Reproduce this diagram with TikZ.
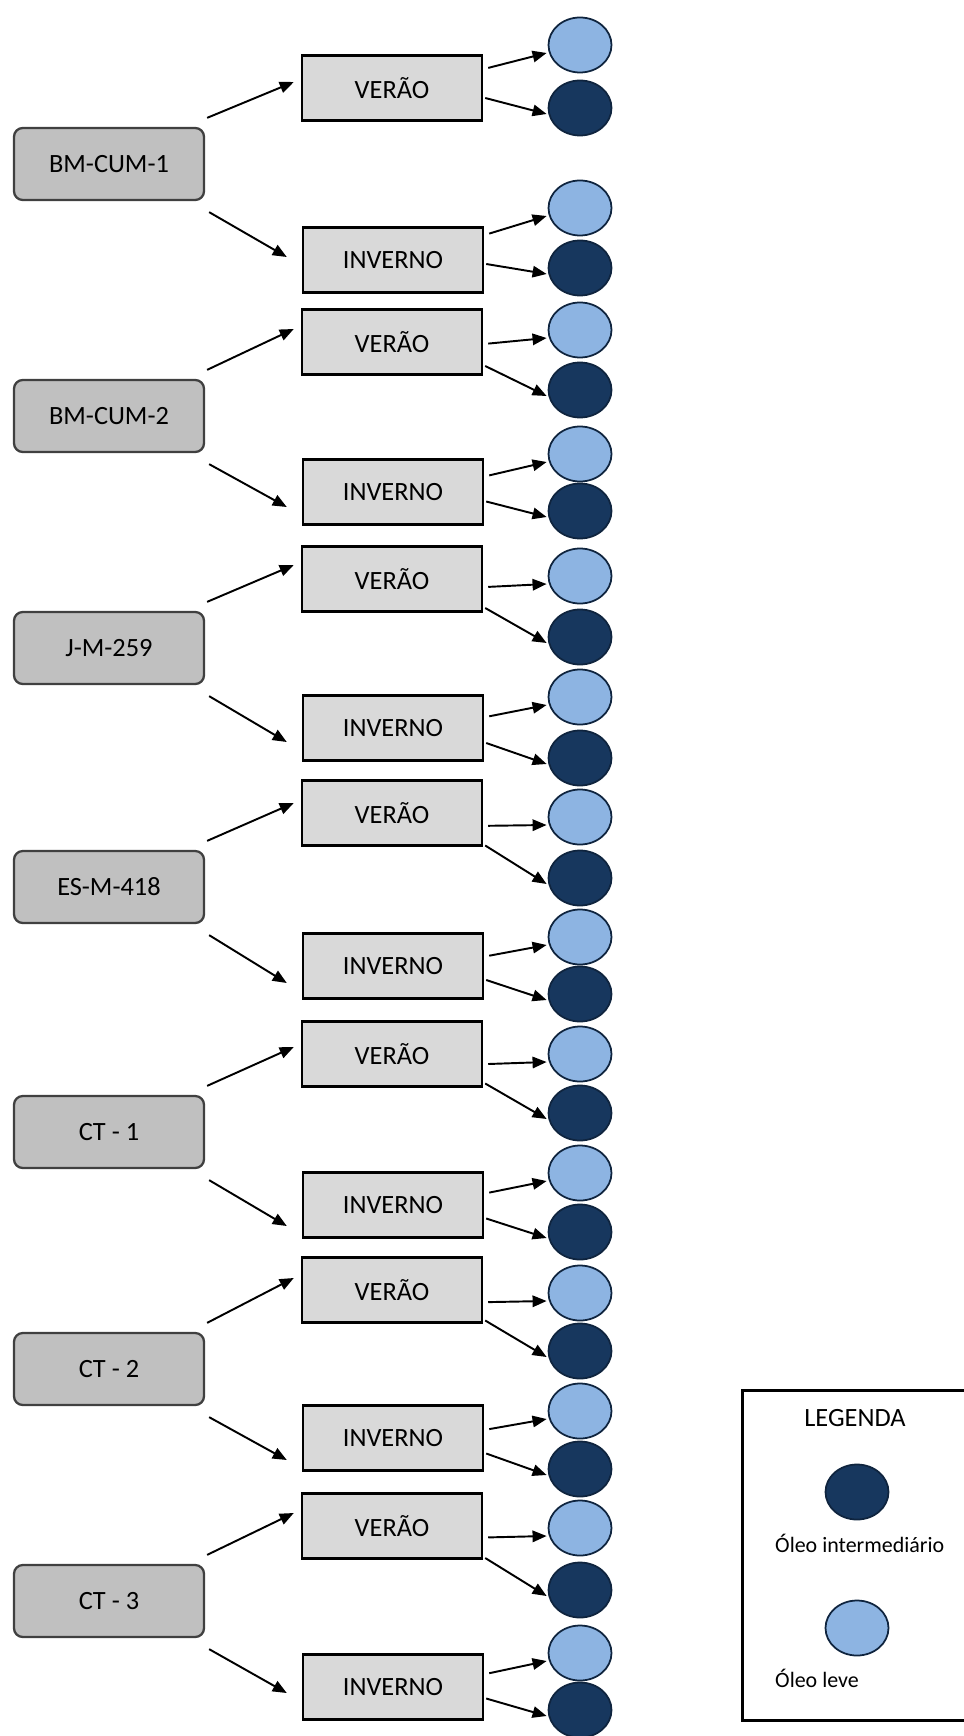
\documentclass[tikz,border=0pt]{standalone}
\usepackage{fontspec}
\setmainfont{Carlito}
\usetikzlibrary{arrows.meta,calc,shapes.geometric}

\definecolor{cinzaA}{HTML}{C0C0C0}
\definecolor{cinzaB}{HTML}{D9D9D9}
\definecolor{azulleve}{HTML}{8DB4E2}
\definecolor{azulinter}{HTML}{17375E}
\definecolor{azulborda}{HTML}{0F243E}

\begin{document}
\begin{tikzpicture}[x=0.02cm, y=-0.02cm,
  every node/.style={font=\fontsize{15}{17}\selectfont},
  cultivar/.style={draw=black!75, line width=1.3pt, rounded corners=5pt, fill=cinzaA,
    minimum width=190*0.02cm, minimum height=72*0.02cm},
  estacao/.style={draw=black, line width=1.4pt, fill=cinzaB,
    minimum width=180*0.02cm, minimum height=65*0.02cm},
  leve/.style={ellipse, draw=azulborda, line width=1pt, fill=azulleve,
    minimum width=63*0.02cm, minimum height=55*0.02cm, inner sep=0pt},
  inter/.style={ellipse, draw=azulborda, line width=1pt, fill=azulinter,
    minimum width=63*0.02cm, minimum height=55*0.02cm, inner sep=0pt},
  seta/.style={line width=1.1pt, -{Triangle[length=8pt, width=6.5pt]}}]
\useasboundingbox (0,0) rectangle (963,1736);

% cultivares, estacoes e oleos
\foreach \nome/\lc/\vc/\ic/\ca/\cb/\cc/\cd/\eu/\ed [count=\k] in {
  BM-CUM-1/164/88/260/45/108/208/268/-6/-3,
  BM-CUM-2/416/342/492/330/390/454/511/-13/15,
  J-M-259/648/579/728/576/637/697/758/-14/14,
  ES-M-418/887/813/966/817/878/937/994/-10/17,
  CT - 1/1132/1054/1205/1054/1113/1173/1232/-7/21,
  CT - 2/1369/1290/1438/1293/1351/1411/1469/-12/22,
  CT - 3/1601/1526/1687/1528/1590/1653/1710/-13/6}
{
  \node[cultivar] (g\k) at (109,\lc) {\nome};
  \node[estacao] (v\k) at (392,\vc) {VERÃO};
  \node[estacao] (i\k) at (393,\ic) {INVERNO};
  \node[leve] (va\k) at (580,\ca) {};
  \node[inter] (vb\k) at (580,\cb) {};
  \node[leve] (ia\k) at (580,\cc) {};
  \node[inter] (ib\k) at (580,\cd) {};
  \draw[seta] ($(g\k.north east)+(2,-9)$) -- ($(v\k.west)+(-7,\eu)$);
  \draw[seta] ($(g\k.south east)+(4,11)$) -- ($(i\k.west)+(-15,\ed)$);
  \draw[seta] ($(v\k.east)!0.7!(v\k.east |- va\k.west)+(5,10)$) -- ($(va\k.west)+(-1,8)$);
  \draw[seta] ($(v\k.east)!0.5!(v\k.east |- vb\k.west)+(2,0)$) -- ($(vb\k.west)+(-1,6)$);
  \draw[seta] ($(i\k.east)!0.7!(i\k.east |- ia\k.west)+(5,10)$) -- ($(ia\k.west)+(-1,8)$);
  \draw[seta] ($(i\k.east)!0.5!(i\k.east |- ib\k.west)+(2,0)$) -- ($(ib\k.west)+(-1,6)$);
}

% legenda
\draw[line width=1.7pt] (966,1390) -- (742,1390) -- (742,1720) -- (966,1720);
\node (leg) at (855,1418) {LEGENDA};
\node[inter] (lint) at (857,1492) {};
\node[anchor=west, font=\fontsize{12.5}{14}\selectfont] (tint) at (769,1543) {Óleo intermediário};
\node[leve] (llev) at (857,1628) {};
\node[anchor=west, font=\fontsize{12.5}{14}\selectfont] (tlev) at (769,1678) {Óleo leve};
\end{tikzpicture}
\end{document}
